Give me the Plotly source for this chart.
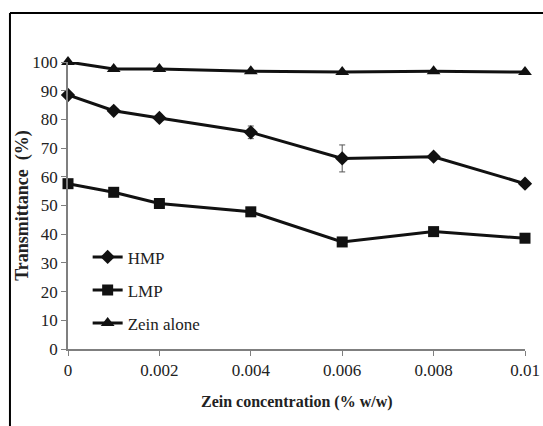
import plotly.graph_objects as go

# Zein concentration (% w/w)
zein_conc = [0, 0.001, 0.002, 0.004, 0.006, 0.008, 0.01]

# Transmittance (%) per system
hmp = [88.5, 83.0, 80.5, 75.5, 66.4, 67.0, 57.6]
hmp_err = [0.8, 0.6, 0.6, 2.2, 4.7, 0.7, 0.8]
lmp = [57.6, 54.6, 50.7, 47.8, 37.3, 40.9, 38.6]
zein_alone = [100.0, 97.6, 97.6, 96.8, 96.5, 96.8, 96.5]

x_ticks = [0, 0.002, 0.004, 0.006, 0.008, 0.01]
x_tick_text = ["0", "0.002", "0.004", "0.006", "0.008", "0.01"]
y_ticks = list(range(0, 101, 10))

serif = "Liberation Serif, Times New Roman, serif"
ink = "#111111"
text_col = "#222222"
axis_grey = "#7f7f7f"

fig = go.Figure()

fig.add_trace(go.Scatter(
    x=zein_conc, y=hmp, name="HMP", mode="lines+markers", legendgroup="hmp",
    line=dict(color=ink, width=3),
    marker=dict(symbol="diamond", size=11, color=ink),
    error_y=dict(type="data", array=hmp_err, visible=True,
                 color="#555555", thickness=1, width=3),
    cliponaxis=False,
))
fig.add_trace(go.Scatter(
    x=zein_conc, y=lmp, name="LMP", mode="lines+markers", legendgroup="lmp",
    line=dict(color=ink, width=3),
    marker=dict(symbol="square", size=11, color=ink),
    cliponaxis=False,
))
fig.add_trace(go.Scatter(
    x=zein_conc, y=zein_alone, name="Zein alone", mode="lines+markers",
    legendgroup="zein",
    line=dict(color=ink, width=3),
    marker=dict(symbol="triangle-up", size=12, color=ink),
    cliponaxis=False,
))

# outer frame (left and top edges)
frame = dict(type="line", xref="paper", yref="paper",
             line=dict(color="black", width=2))
shapes = [
    dict(frame, x0=-0.127, x1=-0.127, y0=-0.4, y1=1.171),
    dict(frame, x0=-0.127, x1=1.2, y0=1.171, y1=1.171),
]

fig.update_layout(
    width=543, height=426,
    margin=dict(l=68, r=18, t=62, b=77, autoexpand=False),
    paper_bgcolor="white", plot_bgcolor="white",
    font=dict(family=serif, size=17, color=text_col),
    showlegend=True,
    legend=dict(x=0.043, y=0.382, xanchor="left", yanchor="top",
                bgcolor="rgba(0,0,0,0)", font=dict(size=17, color=text_col),
                itemwidth=30, tracegroupgap=8),
    xaxis=dict(range=[0, 0.01], tickvals=x_ticks, ticktext=x_tick_text,
               showgrid=False, zeroline=False, showline=True, automargin=False,
               linecolor=axis_grey, linewidth=1.5,
               ticks="outside", ticklen=5, tickcolor=axis_grey,
               tickfont=dict(size=17)),
    yaxis=dict(range=[0, 100], tickvals=y_ticks,
               showgrid=False, zeroline=False, showline=True, automargin=False,
               linecolor=axis_grey, linewidth=1.5,
               ticks="outside", ticklen=5, tickcolor=axis_grey,
               tickfont=dict(size=17)),
    shapes=shapes,
    annotations=[
        dict(text="<b>Zein concentration (% w/w)</b>", xref="paper", yref="paper",
             x=0.5, y=-0.185, xanchor="center", yanchor="middle", showarrow=False,
             font=dict(family=serif, size=16, color=text_col)),
        dict(text="<b>Transmittance  (%)</b>", xref="paper", yref="paper",
             x=-0.1, y=0.5, xanchor="center", yanchor="middle", showarrow=False,
             textangle=-90, font=dict(family=serif, size=18, color=text_col)),
    ],
)

fig.write_html("out.html")
